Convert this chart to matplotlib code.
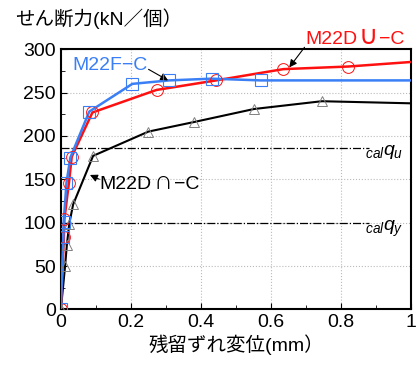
import matplotlib
matplotlib.use("Agg")
import matplotlib.pyplot as plt
from matplotlib.ticker import MultipleLocator
from matplotlib.offsetbox import TextArea, HPacker, AnnotationBbox

plt.rcParams['font.family'] = ['Liberation Sans', 'Noto Sans CJK JP', 'DejaVu Sans']
plt.rcParams['mathtext.fontset'] = 'custom'
plt.rcParams['mathtext.it'] = 'Liberation Sans:italic'
plt.rcParams['mathtext.rm'] = 'Liberation Sans'

# M22D∪-C (赤, 丸)
u_x = [0, 0.0086, 0.010, 0.023, 0.031, 0.090, 0.273, 0.443, 0.635, 0.820, 1.06]
u_y = [0, 83, 104, 146, 176, 227, 253, 264, 277, 280, 287]

# M22F-C (青, 四角)
f_x = [0, 0.007, 0.008, 0.016, 0.027, 0.081, 0.204, 0.309, 0.430, 0.570, 1.06]
f_y = [0, 84, 101, 146, 175, 228, 260, 264, 266, 264, 264]

# M22D∩-C (黒, 三角)
n_x = [0, 0.012, 0.017, 0.024, 0.035, 0.092, 0.250, 0.380, 0.551, 0.745, 1.06]
n_y = [0, 50, 74, 99, 121, 177, 205, 216, 231, 240, 237]

q_u = 186
q_y = 100

red = "#ff1010"
blue = "#3a7ff5"
lab_font = ['Liberation Sans', 'DejaVu Sans']

fig = plt.figure(figsize=(4.17, 3.67), dpi=100)
ax = fig.add_axes([0.146, 0.157, 0.84, 0.709])

ax.plot(n_x, n_y, color="black", linewidth=1.5, zorder=3)
ax.plot(n_x[:-1], n_y[:-1], linestyle="none", marker="^", markersize=7,
        markerfacecolor="none", markeredgecolor="gray", markeredgewidth=0.7, zorder=4)
ax.plot(u_x, u_y, color=red, linewidth=1.8, zorder=3)
ax.plot(u_x[:-1], u_y[:-1], linestyle="none", marker="o", markersize=8.5,
        markerfacecolor="none", markeredgecolor=red, markeredgewidth=0.7, zorder=4)
ax.plot(f_x, f_y, color=blue, linewidth=1.8, zorder=3)
ax.plot(f_x[:-1], f_y[:-1], linestyle="none", marker="s", markersize=8,
        markerfacecolor="none", markeredgecolor=blue, markeredgewidth=0.8, zorder=4)

# 計算値
ax.plot([0, 0.88], [q_u, q_u], color="black", linestyle="-.", linewidth=0.9, zorder=2)
ax.plot([0, 0.88], [q_y, q_y], color="black", linestyle="-.", linewidth=0.9, zorder=2)
ax.text(0.868, q_u - 5, r"${}_{cal}q_{u}$", fontsize=14, va="center", ha="left")
ax.text(0.868, q_y - 7, r"${}_{cal}q_{y}$", fontsize=14, va="center", ha="left")

ax.set_xlim(0, 1)
ax.set_ylim(0, 300)
ax.xaxis.set_major_locator(MultipleLocator(0.2))
ax.xaxis.set_minor_locator(MultipleLocator(0.1))
ax.yaxis.set_major_locator(MultipleLocator(50))
ax.yaxis.set_minor_locator(MultipleLocator(25))
ax.set_xticks([0, 0.2, 0.4, 0.6, 0.8, 1.0])
ax.set_xticklabels(["0", "0.2", "0.4", "0.6", "0.8", "1"])
ax.tick_params(which="both", direction="in", labelsize=14)
ax.tick_params(which="major", length=4)
ax.tick_params(which="minor", length=3)
ax.grid(True, which="major", linestyle=":", color="#bbbbbb", linewidth=0.8)
for s in ax.spines.values():
    s.set_linewidth(1.5)

ax.set_xlabel("残留ずれ変位(mm）", fontsize=14, labelpad=2)
fig.text(0.036, 0.95, "せん断力(kN／個）", fontsize=14, va="center", ha="left")


def label(parts, color, xy, xybox, relpos):
    # 記号(∪, ∩)だけ少し大きく描く
    boxes = []
    for s, size in parts:
        boxes.append(TextArea(s, textprops=dict(color=color, fontsize=size, family=lab_font)))
    pack = HPacker(children=boxes, align="baseline", pad=0, sep=1)
    ab = AnnotationBbox(pack, xy, xybox=xybox, xycoords="data", boxcoords="data",
                        frameon=False, pad=0, box_alignment=(0, 0.5),
                        annotation_clip=False,
                        arrowprops=dict(arrowstyle="-|>", color="black", lw=0.8,
                                        mutation_scale=8, shrinkA=0, shrinkB=0,
                                        relpos=relpos))
    ax.add_artist(ab)


label([("M22F−C", 14)], blue, (0.306, 264), (0.034, 281), (1, 0.3))
label([("M22D", 14), ("∪", 19), ("−C", 14)], red, (0.652, 279), (0.697, 314), (0, 0.1))
label([("M22D", 14), ("∩", 19), ("−C", 14)], "black", (0.083, 155), (0.111, 147), (0, 0.6))

fig.savefig("out.png", dpi=100)
